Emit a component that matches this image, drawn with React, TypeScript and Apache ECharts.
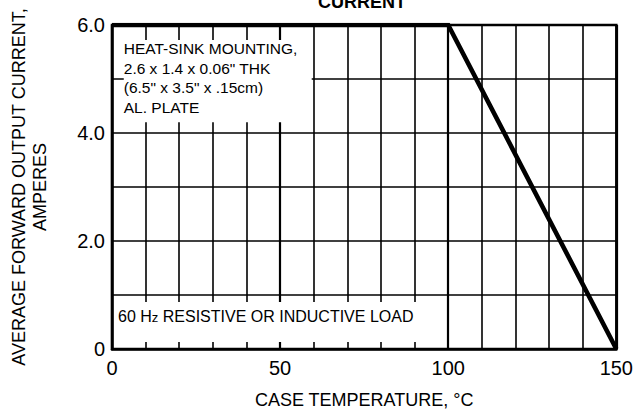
import React, { useEffect, useRef } from "react";
import * as echarts from "echarts";

// Data
const caseTemperature = [0, 100, 150];
const outputCurrent = [6.0, 6.0, 0];
const xAxisMax = 150;
const yAxisMax = 6;

const heatSinkNote = [
  "HEAT-SINK MOUNTING,",
  '2.6 x 1.4 x 0.06" THK',
  '(6.5" x 3.5" x .15cm)',
  "AL. PLATE",
];
const loadNote = "60 H{s|z} RESISTIVE OR INDUCTIVE LOAD";

const FONT = "'Liberation Sans', Arial, Helvetica, sans-serif";

export default function App() {
  const ref = useRef<HTMLDivElement>(null);

  useEffect(() => {
    if (!ref.current) return;
    const chart = echarts.init(ref.current, null, { renderer: "svg" });
    const series = caseTemperature.map((t, i) => [t, outputCurrent[i]]);

    chart.setOption({
      animation: false,
      backgroundColor: "#fff",
      textStyle: { fontFamily: FONT },
      title: {
        text: "CURRENT",
        left: 318,
        top: -7,
        padding: 0,
        textStyle: { fontFamily: FONT, fontWeight: "bold", fontSize: 18, color: "#000" },
      },
      grid: {
        left: 107,
        right: 19,
        top: 25,
        bottom: 67,
        show: true,
        borderColor: "#000",
        borderWidth: 2.5,
        backgroundColor: "transparent",
      },
      xAxis: {
        type: "value",
        min: 0,
        max: xAxisMax,
        interval: 50,
        name: "CASE TEMPERATURE, °C",
        nameLocation: "middle",
        nameGap: 42,
        nameTextStyle: { fontFamily: FONT, fontSize: 18, color: "#000" },
        axisLine: { show: true, lineStyle: { color: "#000", width: 2.5 } },
        axisTick: { show: false },
        axisLabel: { color: "#000", fontSize: 20, fontFamily: FONT, margin: 9 },
        splitLine: { show: true, lineStyle: { color: "#000", width: 2.2 } },
        minorTick: { show: false, splitNumber: 5 },
        minorSplitLine: { show: true, lineStyle: { color: "#000", width: 1.6 } },
      },
      yAxis: {
        type: "value",
        min: 0,
        max: yAxisMax,
        interval: 1,
        name: "AVERAGE FORWARD OUTPUT CURRENT,\nAMPERES",
        nameLocation: "middle",
        nameGap: 62,
        nameTextStyle: { fontFamily: FONT, fontSize: 18, color: "#000", lineHeight: 21 },
        axisLine: { show: true, lineStyle: { color: "#000", width: 2.5 } },
        axisTick: { show: false },
        axisLabel: {
          color: "#000",
          fontSize: 20,
          fontFamily: FONT,
          margin: 7,
          formatter: (v: number) => (v % 2 === 0 ? (v === 0 ? "0" : v.toFixed(1)) : ""),
        },
        splitLine: { show: true, lineStyle: { color: "#000", width: 1.6 } },
      },
      series: [
        {
          type: "line",
          data: series,
          symbol: "none",
          z: 5,
          lineStyle: { color: "#000", width: 4.6, join: "miter" },
          markArea: {
            silent: true,
            itemStyle: { color: "#fff", opacity: 1 },
            label: { color: "#000", fontFamily: FONT },
            data: [
              [
                {
                  coord: [3.5, 5.72],
                  label: {
                    show: true,
                    position: "insideLeft",
                    distance: 0,
                    offset: [0, -3],
                    formatter: heatSinkNote.join("\n"),
                    fontSize: 15.5,
                    lineHeight: 19.5,
                    color: "#000",
                    fontFamily: FONT,
                  },
                },
                { coord: [59.4, 4.2] },
              ],
              [
                {
                  coord: [0.6, 0.87],
                  label: {
                    show: true,
                    position: "insideLeft",
                    distance: 4,
                    offset: [0, -6],
                    formatter: loadNote,
                    fontSize: 16,
                    color: "#000",
                    fontFamily: FONT,
                    rich: { s: { fontSize: 13, color: "#000", fontFamily: FONT, padding: [3, 0, 0, 0] } },
                  },
                },
                { coord: [98.2, 0.13] },
              ],
            ],
          },
        },
      ],
    });

    return () => chart.dispose();
  }, []);

  return (
    <div
      ref={ref}
      style={{ position: "fixed", left: 0, top: 0, width: 636, height: 416, background: "#fff" }}
    />
  );
}
